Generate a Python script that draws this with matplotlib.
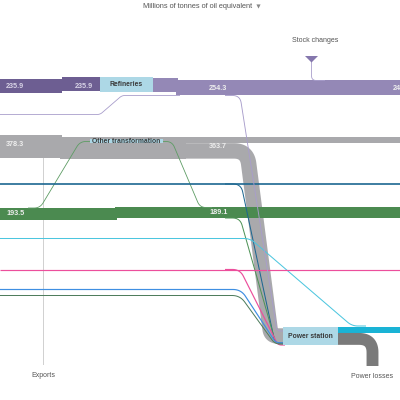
import numpy as np
import matplotlib
matplotlib.use('Agg')
import matplotlib.pyplot as plt

plt.rcParams['font.family'] = ['Liberation Sans', 'DejaVu Sans']

# ---- data (Mtoe) ----
oil_vals = [235.9, 235.9, 254.3, 246.2]     # imports, into refineries, out, next (cut off)
gas_vals = [378.3, 363.7]                   # in, after other transformation
gas_split = [104.0, 259.7]                  # continues, to power station
coal_vals = [193.5, 189.1]
thin_names = ['oil to power', 'dark blue', 'green to power', 'cyan', 'pink', 'light blue', 'grey green']
thin_vals = [15.0, 28.0, 17.0, 17.0, 20.0, 20.0, 17.0]
power_out = [100.0, 200.0]                  # electricity, power losses
node_labels = ['Refineries', 'Other transformation', 'Power station']
side_labels = ['Stock changes', 'Exports', 'Power losses']
title = 'Millions of tonnes of oil equivalent'

k = 22.5 / 378.3     # px per Mtoe
PT = 0.72            # pt per px at dpi 100

fig = plt.figure(figsize=(4, 4), dpi=100)
ax = fig.add_axes([0, 0, 1, 1])
ax.set_xlim(0, 400)
ax.set_ylim(400, 0)
ax.axis('off')


def rounded(points, r):
    # polyline with small rounded corners
    pts = np.array(points, float)
    out = [pts[0]]
    for i in range(1, len(pts) - 1):
        a, b, c = pts[i - 1], pts[i], pts[i + 1]
        d1 = (b - a) / np.linalg.norm(b - a)
        d2 = (c - b) / np.linalg.norm(c - b)
        rr = min(r, np.linalg.norm(b - a) / 2, np.linalg.norm(c - b) / 2)
        p0, p2 = b - d1 * rr, b + d2 * rr
        t = np.linspace(0, 1, 20)[:, None]
        out.extend((1 - t) ** 2 * p0 + 2 * (1 - t) * t * b + t ** 2 * p2)
    out.append(pts[-1])
    return np.array(out)


def route(points, r, color, v, z=3, alpha=1):
    p = rounded(points, r)
    ax.plot(p[:, 0], p[:, 1], color=color, lw=max(v * k, 0.8) * PT, zorder=z,
            solid_capstyle='butt', solid_joinstyle='round', alpha=alpha)


def band(x0, x1, top, v, color, z=2):
    ax.fill_between([x0, x1], top, top + v * k, color=color, lw=0, zorder=z)


PURPLE_D = '#6d5e92'
PURPLE = '#9488b6'
PURPLE_L = '#a89dcb'
GREY = '#a9a9ac'
GREEN = '#4b8a50'
NODE = '#add8e6'

# title
ax.text(198, 6, title, ha='center', va='center', fontsize=5.3, color='#555')
ax.plot([257.5], [6], marker='v', ms=3, color='#888', mec='none')

# exports
route([(30, 156), (43.5, 156), (43.5, 365)], 3, '#c9c9c9', 14, z=1)

# oil
band(0, 62, 79, oil_vals[0], PURPLE_D)
band(62, 100, 77, oil_vals[1], PURPLE_D)
band(153, 178, 78, oil_vals[1], PURPLE)
band(176, 400, 80, oil_vals[2], PURPLE)
ax.add_patch(plt.Rectangle((100, 77), 53, 15, color=NODE, lw=0, zorder=4))
route([(0, 114.5), (100, 114.5), (122, 95.5), (180, 95.5)], 3, PURPLE_L, 14)
ax.add_patch(plt.Polygon([(305, 56), (318, 56), (311.5, 62.5)], closed=True,
                         color='#8577ad', lw=0, zorder=4))
route([(311.5, 60), (311.5, 80.5), (325, 80.5)], 5, PURPLE_L, 14)

# gas
band(0, 62, 135, gas_vals[0], GREY)
band(60, 186, 137, gas_vals[1], GREY)
band(183, 400, 137, gas_split[0], GREY)
gc = 137 + gas_split[0] * k + gas_split[1] * k / 2
route([(180, gc), (247, gc), (271, 336), (285, 336)], 13, GREY, gas_split[1], z=2)

# coal
band(0, 117, 208, coal_vals[0], GREEN)
band(115, 400, 207, coal_vals[1], GREEN, z=2.5)
route([(28, 208), (40, 208), (80, 141.5), (92, 141.5)], 6, '#5d9c64', 14)
route([(160, 141.5), (172, 141.5), (200, 207.5), (212, 207.5)], 6, '#5d9c64', 14)

# other transformation node
ax.add_patch(plt.Rectangle((90, 139), 73, 3.5, color=NODE, lw=0, zorder=4))

# thin flows into the power station
thin_cols = [PURPLE_L, '#1d6791', '#4f9357', '#4cc6df', '#ec4f9c', '#3f8fe2', '#4f7d5d']
route([(225, 95.5), (240, 95.5), (277, 331), (285, 331)], 8, thin_cols[0], thin_vals[0], z=5)
route([(0, 184), (400, 184)], 0, thin_cols[1], thin_vals[1])
route([(225, 184), (241, 184), (275, 343), (285, 343)], 8, thin_cols[1], 17)
route([(225, 218), (240, 218), (276, 344), (285, 344)], 8, thin_cols[2], thin_vals[2])
route([(0, 238.5), (250, 238.5), (352, 326), (366, 326)], 6, thin_cols[3], thin_vals[3])
route([(0, 269.5), (400, 269.5)], 0, thin_cols[4], thin_vals[4])
route([(225, 269.5), (240, 269.5), (278, 345), (285, 345)], 8, thin_cols[4], thin_vals[4])
route([(0, 289.5), (241, 289.5), (276, 343), (285, 343)], 8, thin_cols[5], thin_vals[5])
route([(0, 295.5), (240, 295.5), (275, 344), (285, 344)], 8, thin_cols[6], thin_vals[6])

# power station and outputs
ax.add_patch(plt.Rectangle((283, 327), 55, 18, color=NODE, lw=0, zorder=6))
band(338, 400, 327, power_out[0], '#1ab3d5', z=5)
lc = 327 + power_out[0] * k + power_out[1] * k / 2
route([(336, lc), (372.5, lc), (372.5, 366)], 14, '#7a7a7a', power_out[1], z=5)

# value labels
lab = dict(fontsize=5.2, fontweight='bold', va='center', zorder=7)
ax.text(6, 87, f'{oil_vals[0]:.1f}', color='#d8d3e6', **lab)
ax.text(75, 86, f'{oil_vals[1]:.1f}', color='#d8d3e6', **lab)
ax.text(209, 88, f'{oil_vals[2]:.1f}', color='#eeeeee', **lab)
ax.text(393, 88, f'{oil_vals[3]:.1f}', color='#eeeeee', **lab)
ax.text(6, 145, f'{gas_vals[0]:.1f}', color='#eeeeee', **lab)
ax.text(209, 147, f'{gas_vals[1]:.1f}', color='#eeeeee', **lab)
ax.text(6, 213.5, f'{coal_vals[0]:.1f}', color='#eeeeee', **lab)
ax.text(209, 212.5, f'{coal_vals[1]:.1f}', color='#eeeeee', **lab)

# node and side labels
nl = dict(fontsize=4.9, fontweight='bold', ha='center', va='center', color='#3a3a3a', zorder=8)
ax.text(126.5, 85, node_labels[0], **nl)
ax.text(126.5, 141.5, node_labels[1], **nl)
ax.text(310.5, 336, node_labels[2], **nl)
sl = dict(fontsize=5.0, ha='center', va='center', color='#555')
ax.text(315, 40, side_labels[0], **sl)
ax.text(43, 375.5, side_labels[1], **sl)
ax.text(372, 376, side_labels[2], **sl)

fig.savefig('out.png', dpi=100)
